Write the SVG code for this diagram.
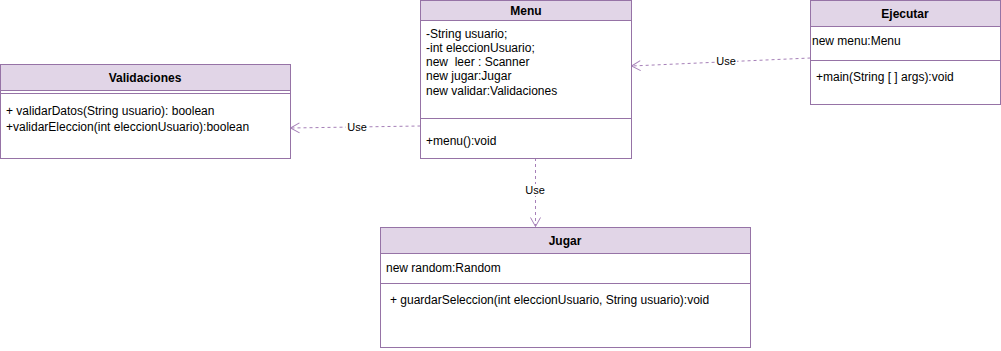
<svg xmlns="http://www.w3.org/2000/svg" width="1001" height="351" viewBox="0 0 1001 351">
  <style>
    .box { fill: #ffffff; stroke: #9673a6; stroke-width: 1; }
    .head { fill: #e1d5e7; stroke: #9673a6; stroke-width: 1; }
    .sep { stroke: #9673a6; stroke-width: 1; fill: none; }
    .title { font-family: "Liberation Sans", Arial, sans-serif; font-size: 12px; font-weight: bold; fill: #000; text-anchor: middle; }
    .txt { font-family: "Liberation Sans", Arial, sans-serif; font-size: 12px; fill: #000; }
    .edge { stroke: #a680b8; stroke-width: 1; fill: none; stroke-dasharray: 3 3; }
    .lbl { font-family: "Liberation Sans", Arial, sans-serif; font-size: 11px; fill: #000; text-anchor: middle; }
    .lblbg { fill: #ffffff; }
  </style>
  <defs>
    <marker id="open" markerWidth="12" markerHeight="12" refX="10" refY="6" orient="auto" markerUnits="userSpaceOnUse">
      <path d="M1,1 L10,6 L1,11" fill="none" stroke="#a680b8" stroke-width="1"/>
    </marker>
  </defs>
  <rect width="1001" height="351" fill="#ffffff"/>

  <g id="connectors">
    <path class="edge" d="M810.5,58 L631.5,66" marker-end="url(#open)"/>
    <rect class="lblbg" x="715" y="55" width="22" height="12"/>
    <text class="lbl" x="726" y="65">Use</text>

    <path class="edge" d="M420.5,126 L290.5,128" marker-end="url(#open)"/>
    <rect class="lblbg" x="346" y="121" width="22" height="12"/>
    <text class="lbl" x="357" y="131">Use</text>

    <path class="edge" d="M535.5,158 L535.5,226.5" marker-end="url(#open)"/>
    <rect class="lblbg" x="524" y="184" width="22" height="12"/>
    <text class="lbl" x="535" y="194">Use</text>
  </g>

  <g id="menu">
    <rect class="box" x="420.5" y="0.5" width="211" height="158"/>
    <rect class="head" x="420.5" y="0.5" width="211" height="20"/>
    <text class="title" x="526" y="15">Menu</text>
    <text class="txt" x="426" y="38">-String usuario;</text>
    <text class="txt" x="426" y="52">-int eleccionUsuario;</text>
    <text class="txt" x="426" y="66" xml:space="preserve">new  leer : Scanner</text>
    <text class="txt" x="426" y="80">new jugar:Jugar</text>
    <text class="txt" x="426" y="95">new validar:Validaciones</text>
    <line class="sep" x1="420.5" y1="118.5" x2="631.5" y2="118.5"/>
    <text class="txt" x="426" y="145">+menu():void</text>
  </g>

  <g id="validaciones">
    <rect class="box" x="0.5" y="64.5" width="290" height="94"/>
    <rect class="head" x="0.5" y="64.5" width="290" height="26"/>
    <text class="title" x="145" y="82">Validaciones</text>
    <line class="sep" x1="0.5" y1="93.5" x2="290.5" y2="93.5"/>
    <text class="txt" x="6" y="115">+ validarDatos(String usuario): boolean</text>
    <text class="txt" x="6" y="131">+validarEleccion(int eleccionUsuario):boolean</text>
  </g>

  <g id="ejecutar">
    <rect class="box" x="810.5" y="0.5" width="190" height="104"/>
    <rect class="head" x="810.5" y="0.5" width="190" height="26"/>
    <text class="title" x="905" y="18">Ejecutar</text>
    <text class="txt" x="812" y="45">new menu:Menu</text>
    <line class="sep" x1="810.5" y1="60.5" x2="1000.5" y2="60.5"/>
    <text class="txt" x="816" y="81">+main(String [ ] args):void</text>
  </g>

  <g id="jugar">
    <rect class="box" x="380.5" y="227.5" width="370" height="120"/>
    <rect class="head" x="380.5" y="227.5" width="370" height="26"/>
    <text class="title" x="565" y="245">Jugar</text>
    <text class="txt" x="386" y="272">new random:Random</text>
    <line class="sep" x1="380.5" y1="283.5" x2="750.5" y2="283.5"/>
    <text class="txt" x="390" y="304">+ guardarSeleccion(int eleccionUsuario, String usuario):void</text>
  </g>
</svg>
